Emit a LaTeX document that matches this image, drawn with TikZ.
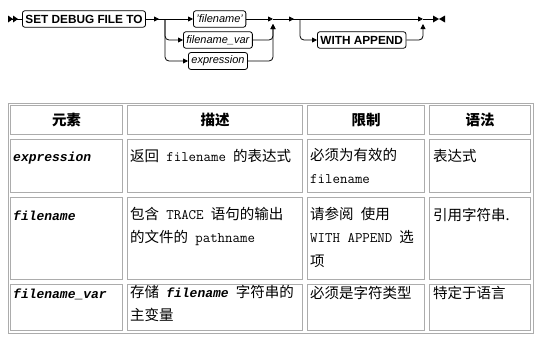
\documentclass[tikz,border=0pt]{standalone}
\usepackage{fontspec}
\setmainfont{Liberation Sans}
\newfontfamily\cjk[WordSpace=2.2]{Noto Sans CJK SC}
\newfontfamily\argfont{Liberation Mono}
\usetikzlibrary{arrows.meta, calc, positioning}

\tikzset{
  kw/.style={draw, rounded corners=2.5pt, line width=0.8pt, inner xsep=3pt,
    minimum height=16.5pt, fill=white, font=\fontsize{11.8}{12}\selectfont\bfseries},
  var/.style={draw, rounded corners=2.5pt, line width=0.8pt, inner xsep=3pt,
    minimum height=16.5pt, fill=white, font=\fontsize{11}{12}\selectfont\itshape},
  rail/.style={line width=0.8pt, rounded corners=4pt},
  tip/.style={rail, -{Triangle[length=5pt,width=5pt]}},
  grid/.style={draw=gray!65, line width=1pt},
  cell/.style={anchor=north west, inner sep=0pt, align=left,
    font=\cjk\fontsize{14.5}{23.5}\selectfont,
    execute at begin node={\rule{0pt}{13pt}}},
  head/.style={inner sep=0pt, font=\cjk\fontsize{14.5}{16}\selectfont\bfseries}
}
\newcommand{\fn}[1]{{\ttfamily #1}}
\newcommand{\elem}[1]{{\argfont\fontsize{13}{16}\selectfont\bfseries\itshape #1}}

\begin{document}
\begin{tikzpicture}[x=1pt, y=-1pt]
\useasboundingbox (0,0) rectangle (560,340);

% Syntax diagram
\coordinate (start) at (8,19);
\node[kw, anchor=west] (set) at (22,19) {SET DEBUG FILE TO};
\coordinate (b1) at (165,19);
\node[var, anchor=west] (fname) at (193,19) {'filename'};
\node[var, anchor=west] (fvar) at (183,40) {filename\_var};
\node[var, anchor=west] (expr) at (188,61) {expression};
\coordinate (m1) at (273,19);
\coordinate (b2) at (300,19);
\node[kw, anchor=west] (app) at (317,40) {WITH APPEND};
\coordinate (m2) at (423,19);
\coordinate (stop) at (433,19);

% Start and end marks
\fill (start) ++(0,-3.5) -- ++(5,3.5) -- ++(-5,3.5) -- cycle;
\fill (start) ++(5,-3.5) -- ++(5,3.5) -- ++(-5,3.5) -- cycle;
\draw[rail] (start) -- (set.west);
\fill (stop) ++(0,-3.5) -- ++(6,3.5) -- ++(-6,3.5) -- cycle;
\fill (stop) ++(12,-3.5) -- ++(-6,3.5) -- ++(6,3.5) -- cycle;

% First choice
\draw[rail] (set.east) -- (b1);
\draw[tip] (set.east) -- (159,19);
\draw[tip] (b1) -- (fname.west);
\draw[tip] (b1) |- (fvar.west);
\draw[tip] (b1) |- (expr.west);
\draw[tip] (fname.east) -- (m1);
\draw[tip] (fvar.east) -| ($(m1)+(0,5)$);
\draw[tip] (expr.east) -| ($(m1)+(0,5)$);

% Optional part
\draw[tip] (m1) -- (294,19);
\draw[rail] (m1) -- (b2);
\draw[tip] (b2) -- (m2);
\draw[tip] (b2) |- (app.west);
\draw[tip] (app.east) -| ($(m2)+(0,5)$);
\draw[rail] (m2) -- (stop);

% Table
\draw[grid] (8,103) rectangle (533,333);
\foreach \xa/\xb in {8/125,125/305,305/427,427/533}
  \foreach \ya/\yb in {103/137,137/195,195/282,282/333}
    \draw[grid] (\xa+2.5,\ya+2.5) rectangle (\xb-2.5,\yb-2.5);

\node[head] (h1) at (66.5,120) {元素};
\node[head] (h2) at (215,120) {描述};
\node[head] (h3) at (366,120) {限制};
\node[head] (h4) at (480,120) {语法};

% expression
\node[cell] (r1a) at (13,148) {\elem{expression}};
\node[cell] (r1b) at (130,148) {返回 \fn{filename} 的表达式};
\node[cell] (r1c) at (310,148) {必须为有效的\\\fn{filename}};
\node[cell] (r1d) at (433,148) {表达式};

% filename
\node[cell] (r2a) at (13,207) {\elem{filename}};
\node[cell] (r2b) at (130,207) {包含 \fn{TRACE} 语句的输出\\的文件的 \fn{pathname}};
\node[cell] (r2c) at (310,207) {请参阅 使用\\\fn{WITH APPEND} 选\\项};
\node[cell] (r2d) at (433,207) {引用字符串.};

% filename_var
\node[cell] (r3a) at (13,285) {\elem{filename\_var}};
\node[cell] (r3b) at (130,285) {存储 \elem{filename} 字符串的\\主变量};
\node[cell] (r3c) at (310,285) {必须是字符类型};
\node[cell] (r3d) at (433,285) {特定于语言};
\end{tikzpicture}
\end{document}
